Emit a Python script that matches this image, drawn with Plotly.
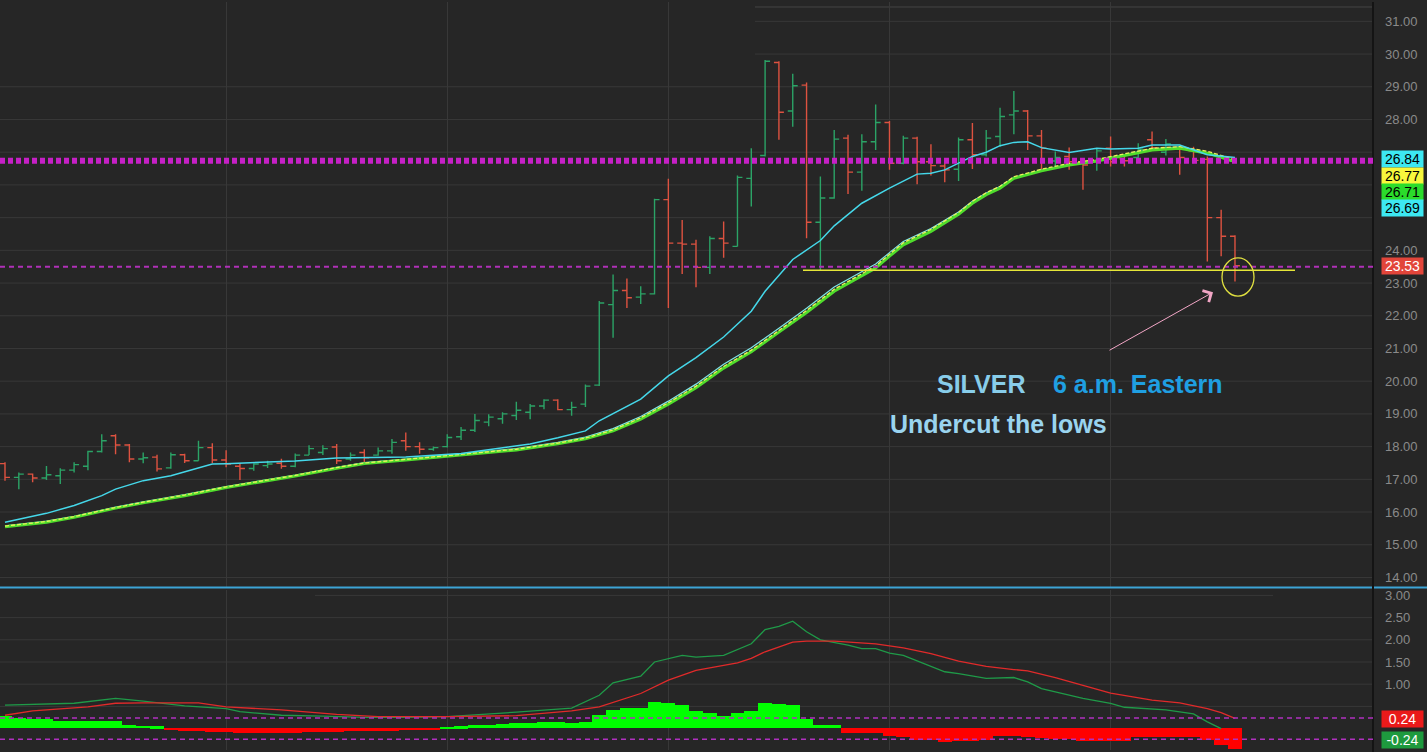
import plotly.graph_objects as go

# ---------------- data ----------------
bar_idx = list(range(90))
opens = [17.48,17.06,17.16,17.04,17.11,17.28,17.40,17.85,18.33,18.05,
         17.62,17.68,17.35,17.75,17.57,17.97,17.59,17.40,17.33,17.42,
         17.49,17.40,17.74,17.82,17.99,17.62,17.82,17.74,17.87,18.18,
         18.00,17.92,18.00,18.30,18.50,18.75,18.85,18.95,19.05,19.24,
         19.42,19.13,19.30,19.88,22.34,22.77,22.57,22.67,25.55,24.22,
         24.19,23.48,24.36,24.12,26.20,26.90,29.74,28.26,29.05,24.86,
         25.60,27.43,26.39,27.32,27.91,26.66,27.43,26.71,26.58,26.48,
         27.38,26.92,27.48,28.14,28.26,27.50,26.73,26.87,26.71,26.71,
         27.12,26.80,26.84,27.38,27.00,27.09,27.04,26.78,25.00,24.43]
highs = [17.52,17.21,17.18,17.41,17.34,17.52,17.87,18.38,18.38,18.08,
         17.82,17.75,17.82,17.78,18.18,18.10,17.89,17.49,17.49,17.57,
         17.63,17.79,18.04,18.04,18.08,17.82,17.92,17.97,18.23,18.43,
         18.13,18.00,18.38,18.60,19.00,18.99,19.05,19.37,19.30,19.45,
         19.45,19.37,19.90,22.45,23.26,23.14,22.90,25.58,26.19,24.93,
         24.32,24.43,24.88,26.29,27.12,29.82,29.78,29.40,29.13,26.26,
         27.68,27.53,27.55,28.46,27.95,27.50,27.47,27.24,26.76,27.45,
         27.89,27.68,28.36,28.87,28.29,27.68,27.02,27.14,26.76,27.12,
         27.48,26.87,27.27,27.63,27.40,27.17,27.17,26.87,25.24,24.46]
lows = [16.96,16.70,16.91,16.98,16.86,17.21,17.28,17.82,17.77,17.52,
        17.49,17.24,17.32,17.50,17.57,17.50,17.37,16.98,17.26,17.35,
        17.32,17.37,17.74,17.74,17.47,17.57,17.50,17.72,17.78,17.87,
        17.78,17.87,17.97,18.20,18.45,18.62,18.70,18.81,18.84,19.14,
        19.11,18.94,19.21,19.85,21.33,22.24,22.36,22.65,22.24,23.28,
        22.87,23.28,23.77,24.12,25.34,26.87,27.38,27.78,24.37,23.38,
        25.58,25.72,25.82,27.07,26.46,26.63,26.02,26.29,26.08,26.12,
        26.49,26.87,27.17,27.55,27.07,26.46,26.56,26.46,25.85,26.43,
        26.56,26.56,26.81,27.12,26.90,26.31,26.66,23.66,23.82,23.05]
closes = [17.06,17.16,17.04,17.14,17.28,17.45,17.85,18.18,18.05,17.62,
          17.66,17.32,17.75,17.57,17.97,17.59,17.47,17.33,17.47,17.47,
          17.40,17.74,17.94,17.94,17.57,17.74,17.66,17.87,18.13,18.00,
          17.92,17.97,18.28,18.50,18.80,18.90,19.00,19.11,19.24,19.42,
          19.13,19.20,19.85,22.39,22.77,22.55,22.67,25.55,24.22,24.19,
          23.48,24.36,24.22,26.23,26.80,29.78,28.22,29.03,24.86,25.60,
          27.40,26.39,27.32,27.91,26.66,27.43,26.71,26.59,26.46,27.38,
          26.92,27.43,28.09,28.26,27.50,27.12,26.84,26.71,26.61,27.04,
          26.71,26.74,27.09,27.14,27.25,26.84,26.75,25.00,24.43,23.53]

fast_idx = [0,3,5,7,8,10,12,14,15,16,18,21,24,26,29,33,36,38,40,42,43,46,48,50,52,
            54,55,56,57,59,60,62,64,66,67,68,70,71,72,73,74,75,77,79,80,82,83,85,87,89]
fast_ma = [15.69,15.96,16.20,16.50,16.70,16.96,17.11,17.36,17.47,17.48,17.52,17.56,17.65,
           17.66,17.68,17.79,17.96,18.08,18.27,18.48,18.79,19.45,20.16,20.72,21.35,
           22.14,22.75,23.25,23.72,24.30,24.75,25.44,25.90,26.33,26.36,26.46,26.87,27.00,
           27.20,27.30,27.32,27.14,26.99,27.12,27.10,27.12,27.22,27.22,26.92,26.84]

slow_idx = [0,3,5,8,10,13,16,19,21,24,26,29,33,37,40,42,44,46,48,50,52,54,56,58,60,63,
            64,65,67,68,69,70,71,72,73,75,77,79,81,83,85,87,89]
slow_green = [15.55,15.69,15.84,16.12,16.28,16.50,16.75,16.96,17.10,17.34,17.48,17.59,17.75,
              17.90,18.09,18.24,18.48,18.84,19.30,19.80,20.40,20.90,21.50,22.10,22.75,23.46,
              23.82,24.17,24.58,24.83,25.10,25.44,25.70,25.90,26.20,26.43,26.61,26.73,26.90,
              27.07,27.12,26.97,26.71]
slow_yellow = [15.57,15.71,15.86,16.14,16.30,16.52,16.77,16.98,17.12,17.36,17.50,17.61,17.77,
               17.92,18.11,18.26,18.51,18.88,19.34,19.85,20.45,20.95,21.55,22.16,22.81,23.52,
               23.88,24.23,24.64,24.89,25.16,25.50,25.76,25.96,26.25,26.48,26.66,26.78,26.95,
               27.12,27.17,27.03,26.77]
slow_cyan = [15.58,15.72,15.87,16.15,16.31,16.53,16.78,16.99,17.13,17.37,17.51,17.62,17.78,
             17.94,18.13,18.29,18.55,18.92,19.39,19.91,20.52,21.02,21.62,22.23,22.88,23.58,
             23.93,24.27,24.67,24.91,25.17,25.50,25.75,25.95,26.23,26.45,26.62,26.74,26.92,
             27.10,27.16,26.98,26.69]

hist = [0.27,0.23,0.21,0.20,0.17,0.15,0.15,0.15,0.15,0.08,
        0.05,0.04,-0.04,-0.06,-0.07,-0.08,-0.09,-0.11,-0.11,-0.11,
        -0.11,-0.10,-0.09,-0.08,-0.08,-0.07,-0.06,-0.07,-0.06,-0.05,
        -0.05,-0.04,0.03,0.04,0.06,0.08,0.10,0.11,0.12,0.13,
        0.13,0.12,0.14,0.30,0.40,0.45,0.45,0.58,0.57,0.53,
        0.38,0.34,0.27,0.33,0.38,0.57,0.55,0.52,0.21,0.06,
        0.06,-0.11,-0.11,-0.12,-0.18,-0.20,-0.26,-0.26,-0.32,-0.30,
        -0.30,-0.27,-0.18,-0.18,-0.20,-0.22,-0.24,-0.24,-0.30,-0.30,
        -0.30,-0.28,-0.20,-0.20,-0.20,-0.20,-0.21,-0.26,-0.39,-0.47]

macd_idx = [0,2,5,8,10,13,16,17,20,23,26,29,32,37,41,43,44,46,47,49,50,52,54,55,56,57,58,
            59,61,62,63,64,65,68,69,71,73,74,75,78,80,81,84,86,87,88]
macd_line = [0.53,0.54,0.57,0.68,0.62,0.51,0.45,0.38,0.30,0.28,0.25,0.25,0.27,0.37,0.46,0.75,
             1.03,1.18,1.50,1.65,1.61,1.65,1.91,2.23,2.30,2.42,2.18,2.00,1.88,1.80,1.80,1.70,
             1.65,1.28,1.24,1.13,1.15,1.05,0.90,0.68,0.57,0.48,0.42,0.33,0.15,0.00]
signal_idx = [0,2,6,8,10,14,16,20,24,27,32,37,41,43,46,48,50,53,54,55,57,58,60,62,63,65,67,
              69,71,73,74,76,80,83,85,87,88,89]
signal_line = [0.30,0.40,0.49,0.57,0.58,0.58,0.49,0.42,0.32,0.27,0.27,0.29,0.40,0.49,0.79,1.09,
               1.31,1.48,1.58,1.73,1.95,1.97,1.97,1.93,1.91,1.82,1.69,1.52,1.40,1.33,1.30,1.15,
               0.80,0.64,0.58,0.45,0.36,0.23]

price_ticks = list(range(14, 32))
hidden_price_ticks = [25, 26, 27]   # covered by the value boxes in the reference
osc_ticks = [0.5, 1.0, 1.5, 2.0, 2.5, 3.0]
hidden_osc_ticks = [0.5]            # covered by the 0.24 box in the reference
levels_main = [26.74, 23.50]
support_level = 23.39
osc_levels = [0.24, -0.24]

# ---------------- layout helpers ----------------
W, H = 1427, 752
PLOT_R = 1373
BAR0, STEP = 5.0, 13.82


def bx(px):
    return (px - BAR0) / STEP


def py(px):
    return 1 - px / H


def pxp(px):
    return px / PLOT_R


BG = '#262626'
GRID = '#383838'
TICKC = '#8a8a8a'

fig = go.Figure()

fig.add_trace(go.Ohlc(
    x=bar_idx, open=opens, high=highs, low=lows, close=closes,
    increasing=dict(line=dict(color='#2ba366', width=1.4)),
    decreasing=dict(line=dict(color='#dd5240', width=1.4)),
    tickwidth=0.36, hoverinfo='skip', xaxis='x', yaxis='y'))

fig.add_trace(go.Scatter(x=slow_idx, y=slow_cyan, mode='lines',
                         line=dict(color='#7fe6e6', width=1.2), xaxis='x', yaxis='y'))
fig.add_trace(go.Scatter(x=slow_idx, y=slow_green, mode='lines',
                         line=dict(color='#4fdc2c', width=3), xaxis='x', yaxis='y'))
fig.add_trace(go.Scatter(x=slow_idx, y=slow_yellow, mode='lines',
                         line=dict(color='#eaf25a', width=1.3, dash='4px,2px'), xaxis='x', yaxis='y'))
fig.add_trace(go.Scatter(x=fast_idx, y=fast_ma, mode='lines',
                         line=dict(color='#45d8ea', width=1.5), xaxis='x', yaxis='y'))

fig.add_trace(go.Bar(x=bar_idx, y=hist, width=1.0,
                     marker=dict(color=['#00ff00' if v >= 0 else '#ff0000' for v in hist],
                                 line=dict(width=0)),
                     xaxis='x', yaxis='y2', hoverinfo='skip'))
fig.add_trace(go.Scatter(x=macd_idx, y=macd_line, mode='lines',
                         line=dict(color='#1f9a48', width=1.3), xaxis='x', yaxis='y2'))
fig.add_trace(go.Scatter(x=signal_idx, y=signal_line, mode='lines',
                         line=dict(color='#e02a2a', width=1.3), xaxis='x', yaxis='y2'))

shapes = []
# horizontal grid lines (drawn as shapes: a few are partly hidden in the reference)
for v in price_ticks:
    x0 = pxp(755) if v >= 30 else 0
    shapes.append(dict(type='line', xref='paper', yref='y', x0=x0, x1=1, y0=v, y1=v,
                       line=dict(color=GRID, width=1), layer='below'))
shapes.append(dict(type='line', xref='paper', yref='paper', x0=pxp(755), x1=1, y0=py(5), y1=py(5),
                   line=dict(color='#444444', width=1), layer='below'))
for v in osc_ticks:
    x0, x1 = (pxp(315), pxp(1273)) if v >= 3 else (0, 1)
    shapes.append(dict(type='line', xref='paper', yref='y2', x0=x0, x1=x1, y0=v, y1=v,
                       line=dict(color=GRID, width=1), layer='below'))
# pane separator
shapes.append(dict(type='line', xref='paper', yref='paper', x0=0, x1=W / PLOT_R,
                   y0=py(587), y1=py(587), line=dict(color='#3ca4d6', width=2), layer='above'))
# right border of plot area
shapes.append(dict(type='line', xref='paper', yref='paper', x0=1, x1=1, y0=0, y1=1,
                   line=dict(color='#141414', width=2), layer='above'))
# magenta levels
shapes.append(dict(type='line', xref='paper', yref='y', x0=0, x1=1, y0=levels_main[0], y1=levels_main[0],
                   line=dict(color='#c620c6', width=6, dash='5px,3px'), layer='above'))
shapes.append(dict(type='line', xref='paper', yref='y', x0=0, x1=1, y0=levels_main[1], y1=levels_main[1],
                   line=dict(color='#b030b8', width=2, dash='5px,4px'), layer='above'))
for lv in osc_levels:
    shapes.append(dict(type='line', xref='paper', yref='y2', x0=0, x1=1, y0=lv, y1=lv,
                       line=dict(color='#b030c0', width=1.5, dash='5px,4px'), layer='above'))
# yellow support line
shapes.append(dict(type='line', xref='x', yref='y', x0=bx(803), x1=bx(1295),
                   y0=support_level, y1=support_level, line=dict(color='#e6e639', width=1.5), layer='above'))
# yellow circle
shapes.append(dict(type='circle', xref='x', yref='y', x0=bx(1222), x1=bx(1254),
                   y0=22.60, y1=23.77, line=dict(color='#e0e040', width=1.3), layer='above'))

annotations = []
# arrow
annotations.append(dict(x=bx(1213), y=22.72, ax=bx(1108), ay=20.92, xref='x', yref='y',
                        axref='x', ayref='y', showarrow=True, arrowhead=4, arrowsize=2.5,
                        arrowwidth=1, arrowcolor='#f2a6c6', text=''))
TXT_FONT = 'Liberation Sans, Arial, sans-serif'
annotations.append(dict(x=bx(981), y=py(383), xref='x', yref='paper', text='<b>SILVER</b>',
                        showarrow=False, font=dict(family=TXT_FONT, size=25, color='#88cdea')))
annotations.append(dict(x=bx(1138), y=py(383), xref='x', yref='paper', text='<b>6 a.m. Eastern</b>',
                        showarrow=False, font=dict(family=TXT_FONT, size=25, color='#1f9fe2')))
annotations.append(dict(x=bx(998), y=py(423), xref='x', yref='paper', text='<b>Undercut the lows</b>',
                        showarrow=False, font=dict(family=TXT_FONT, size=25, color='#9ad4ef')))

# value boxes on the right axis
boxes = [('26.84', 157.5, '#3de8f2', '#000000'),
         ('26.77', 174, '#f8f83c', '#000000'),
         ('26.71', 190.5, '#2bdc2b', '#000000'),
         ('26.69', 207, '#3de8f2', '#000000'),
         ('23.53', 265, '#e2453a', '#ffffff'),
         ('0.24', 718.5, '#ea1a1a', '#ffffff'),
         ('-0.24', 739.5, '#1e9a3e', '#ffffff')]
for txt, ypx, bg, fc in boxes:
    annotations.append(dict(x=1380.5 / PLOT_R, y=py(ypx), xref='paper', yref='paper',
                            xanchor='left', yanchor='middle', text=txt, showarrow=False,
                            bgcolor=bg, width=41, height=16, borderpad=0, align='center',
                            font=dict(family='Liberation Sans, Arial', size=14, color=fc)))

fig.update_layout(
    width=W, height=H,
    margin=dict(l=0, r=W - PLOT_R, t=0, b=0),
    paper_bgcolor=BG, plot_bgcolor=BG,
    showlegend=False, hovermode=False, bargap=0,
    xaxis=dict(range=[bx(0), bx(PLOT_R)], tickvals=[16, 32, 48, 64, 80], showticklabels=False,
               showgrid=True, gridcolor=GRID, gridwidth=1, zeroline=False, showline=False,
               rangeslider=dict(visible=False), anchor='y2', ticks=''),
    yaxis=dict(domain=[py(587), 1], range=[14 - 10 / 32.8, 14 + 577 / 32.8], side='right',
               tickvals=price_ticks,
               ticktext=['' if v in hidden_price_ticks else '%.2f' % v for v in price_ticks],
               showgrid=False, zeroline=False, showline=False, ticks='',
               ticklabelstandoff=11, tickfont=dict(family='Liberation Sans, Arial', size=13, color=TICKC),
               anchor='x'),
    yaxis2=dict(domain=[py(750), py(590)], range=[-(750 - 728.5) / 44.5, (728.5 - 590) / 44.5],
                side='right', tickvals=osc_ticks,
                ticktext=['' if v in hidden_osc_ticks else '%.2f' % v for v in osc_ticks],
                showgrid=False, zeroline=False, showline=False, ticks='',
                ticklabelstandoff=11, tickfont=dict(family='Liberation Sans, Arial', size=13, color=TICKC),
                anchor='x'),
    shapes=shapes, annotations=annotations,
)

fig.write_html('out.html', config={'displayModeBar': False},
               post_script="document.body.style.margin='0';document.body.style.padding='0';"
                           "document.body.style.overflow='hidden';"
                           "document.body.style.background='#262626';")
